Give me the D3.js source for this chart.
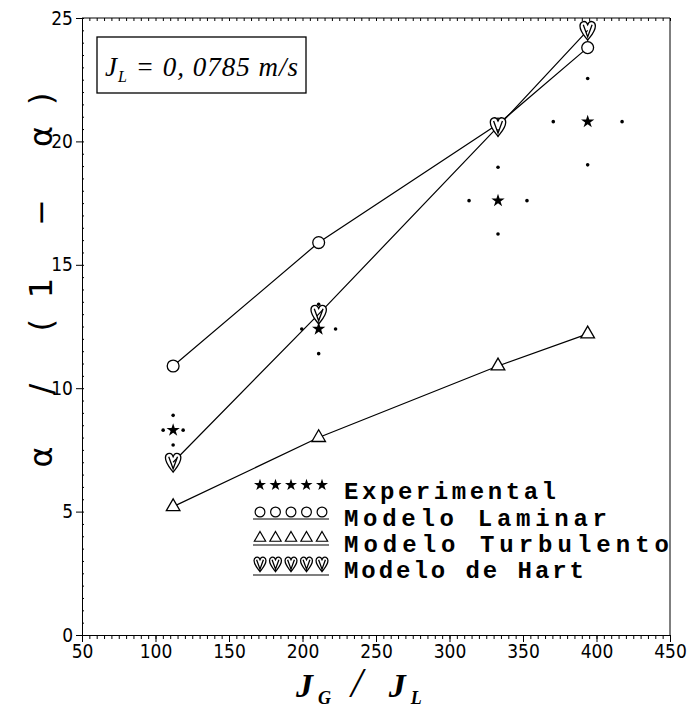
<!DOCTYPE html>
<html><head><meta charset="utf-8">
<script src="https://cdn.jsdelivr.net/npm/d3@7"></script>
<style>body{margin:0;background:#fff}</style>
</head><body>
<svg id="c" width="689" height="709"></svg>
<script>
const ratioX = [112, 211, 333, 394];            // J_G / J_L
const experimental = [8.3, 12.4, 17.6, 20.8];
const expErrX = [6.8, 11.5, 19.7, 23.4];
const expErrY = [0.6, 1.0, 1.35, 1.75];
const laminar = [10.9, 15.9, 20.7, 23.8];
const turbulento = [5.2, 8.0, 10.9, 12.2];
const hart = [7.0, 13.0, 20.6, 24.5];
const xTicks = [50, 100, 150, 200, 250, 300, 350, 400, 450];
const yTicks = [0, 5, 10, 15, 20, 25];
const legendLabels = ["Experimental", "Modelo Laminar", "Modelo Turbulento", "Modelo de Hart"];

const svg = d3.select("#c");
const L = 82, R = 670, T = 18, B = 635;
const x = d3.scaleLinear().domain([50, 450]).range([L, R]);
const y = d3.scaleLinear().domain([0, 25]).range([B, T]);
const ink = "#000";
const tickFont = "'Liberation Sans Narrow','DejaVu Sans Condensed',sans-serif";

// frame
svg.append("line").attr("x1", L).attr("x2", R).attr("y1", T).attr("y2", T).attr("stroke", ink).attr("stroke-width", 1);
svg.append("line").attr("x1", R).attr("x2", R).attr("y1", T).attr("y2", B).attr("stroke", ink).attr("stroke-width", 1);
svg.append("g").attr("transform", `translate(0,${T})`)
  .call(d3.axisTop(x).tickValues(d3.range(50, 451, 5)).tickSize(-3).tickFormat(""))
  .call(g => g.select(".domain").remove());

// y axis
const gy = svg.append("g").attr("transform", `translate(${L},0)`);
gy.call(d3.axisLeft(y).tickValues(d3.range(0, 25.01, 0.5)).tickSize(3).tickFormat(""))
  .call(g => g.selectAll(".tick line").attr("x2", 2));
gy.append("g").call(d3.axisLeft(y).tickValues(yTicks).tickSize(6).tickPadding(3).tickFormat(d3.format("d")))
  .call(g => g.select(".domain").remove())
  .call(g => g.selectAll("text").attr("font-family", tickFont).attr("font-size", 19).attr("fill", ink));

// x axis
const gx = svg.append("g").attr("transform", `translate(0,${B})`);
gx.call(d3.axisBottom(x).tickValues(d3.range(50, 451, 5)).tickSize(4).tickFormat(""));
gx.append("g").call(d3.axisBottom(x).tickValues(xTicks).tickSize(7).tickPadding(3).tickFormat(d3.format("d")))
  .call(g => g.select(".domain").remove())
  .call(g => g.selectAll("text").attr("font-family", tickFont).attr("font-size", 19).attr("fill", ink));

// axis titles
svg.append("text").attr("transform", "translate(52,280) rotate(-90)")
  .attr("text-anchor", "middle").attr("font-family", "'DejaVu Sans',sans-serif").attr("font-size", 32)
  .attr("textLength", 375).attr("lengthAdjust", "spacing")
  .text("α / (1 − α)");
const xt = svg.append("text").attr("x", 296).attr("y", 697).attr("font-family", "'Liberation Serif',serif")
  .attr("font-style", "italic").attr("font-weight", "bold").attr("font-size", 34);
xt.append("tspan").text("J");
xt.append("tspan").attr("dy", 7).attr("dx", 5).attr("font-size", 18).text("G");
xt.append("tspan").attr("dy", -7).attr("dx", 20).attr("font-size", 42).attr("font-weight", "normal").text("/");
xt.append("tspan").attr("dx", 26).text("J");
xt.append("tspan").attr("dy", 7).attr("dx", 5).attr("font-size", 18).text("L");

// annotation box
svg.append("rect").attr("x", 97).attr("y", 37).attr("width", 209).attr("height", 56)
  .attr("fill", "none").attr("stroke", ink).attr("stroke-width", 1.3);
const ann = svg.append("text").attr("x", 105).attr("y", 76).attr("font-family", "'Liberation Serif',serif")
  .attr("font-style", "italic").attr("font-size", 27).attr("textLength", 193).attr("lengthAdjust", "spacing");
ann.append("tspan").text("J");
ann.append("tspan").attr("dy", 6).attr("font-size", 16).text("L");
ann.append("tspan").attr("dy", -6).text(" = 0, 0785 m/s");

// lines
const line = d3.line().x((d, i) => x(ratioX[i])).y(d => y(d));
[laminar, turbulento, hart].forEach(s => {
  svg.append("path").datum(s).attr("d", line).attr("fill", "none").attr("stroke", ink).attr("stroke-width", 1.2);
});

// markers
const heartPath = "M0,9 C-3,5 -7,1 -7,-4 C-7,-8 -3,-9 -1,-7 L0,-5 L1,-7 C3,-9 7,-8 7,-4 C7,1 3,5 0,9 Z M-4,-5 L0,6 L4,-5";
function heart(sel, cx, cy, k) {
  sel.append("path").attr("d", heartPath).attr("transform", `translate(${cx},${cy}) scale(${k})`)
    .attr("fill", "#fff").attr("stroke", ink).attr("stroke-width", 1.3 / k);
}
const circ = d3.symbol(d3.symbolCircle, 110)();
const tri = d3.symbol(d3.symbolTriangle, 80)();
const star = d3.symbol(d3.symbolStar, 55)();

laminar.forEach((v, i) => svg.append("path").attr("d", circ).attr("transform", `translate(${x(ratioX[i])},${y(v)})`)
  .attr("fill", "#fff").attr("stroke", ink).attr("stroke-width", 1.3));
turbulento.forEach((v, i) => svg.append("path").attr("d", tri).attr("transform", `translate(${x(ratioX[i])},${y(v)})`)
  .attr("fill", "#fff").attr("stroke", ink).attr("stroke-width", 1.3));
hart.forEach((v, i) => heart(svg, x(ratioX[i]), y(v), 1.1));
experimental.forEach((v, i) => {
  const cx = x(ratioX[i]), cy = y(v);
  svg.append("path").attr("d", star).attr("transform", `translate(${cx},${cy})`).attr("fill", ink);
  const pts = [[ratioX[i] - expErrX[i], v], [ratioX[i] + expErrX[i], v], [ratioX[i], v - expErrY[i]], [ratioX[i], v + expErrY[i]]];
  pts.forEach(p => svg.append("circle").attr("cx", x(p[0])).attr("cy", y(p[1])).attr("r", 1.8).attr("fill", ink));
});

// legend
const lgX0 = 260, lgStep = 15.5, rowY = [485, 512, 538, 564];
const widths = [212, 263, 325, 240];
legendLabels.forEach((lab, r) => {
  for (let k = 0; k < 5; k++) {
    const cx = lgX0 + k * lgStep, cy = rowY[r];
    if (r === 0) svg.append("path").attr("d", d3.symbol(d3.symbolStar, 45)()).attr("transform", `translate(${cx},${cy})`).attr("fill", ink);
    if (r === 1) svg.append("path").attr("d", d3.symbol(d3.symbolCircle, 75)()).attr("transform", `translate(${cx},${cy})`).attr("fill", "none").attr("stroke", ink).attr("stroke-width", 1.2);
    if (r === 2) svg.append("path").attr("d", d3.symbol(d3.symbolTriangle, 55)()).attr("transform", `translate(${cx},${cy})`).attr("fill", "none").attr("stroke", ink).attr("stroke-width", 1.2);
    if (r === 3) heart(svg, cx, cy, 0.85);
  }
  if (r > 0) svg.append("line").attr("x1", lgX0 - 7).attr("x2", lgX0 + 4 * lgStep + 7)
    .attr("y1", rowY[r] + (r === 3 ? 11 : 7)).attr("y2", rowY[r] + (r === 3 ? 11 : 7)).attr("stroke", ink).attr("stroke-width", 1.2);
  svg.append("text").attr("x", 344).attr("y", rowY[r] + 14).attr("font-family", "'Liberation Mono',monospace")
    .attr("font-weight", "bold").attr("font-size", 24).attr("textLength", widths[r]).attr("lengthAdjust", "spacing")
    .text(lab);
});
</script>
</body></html>
